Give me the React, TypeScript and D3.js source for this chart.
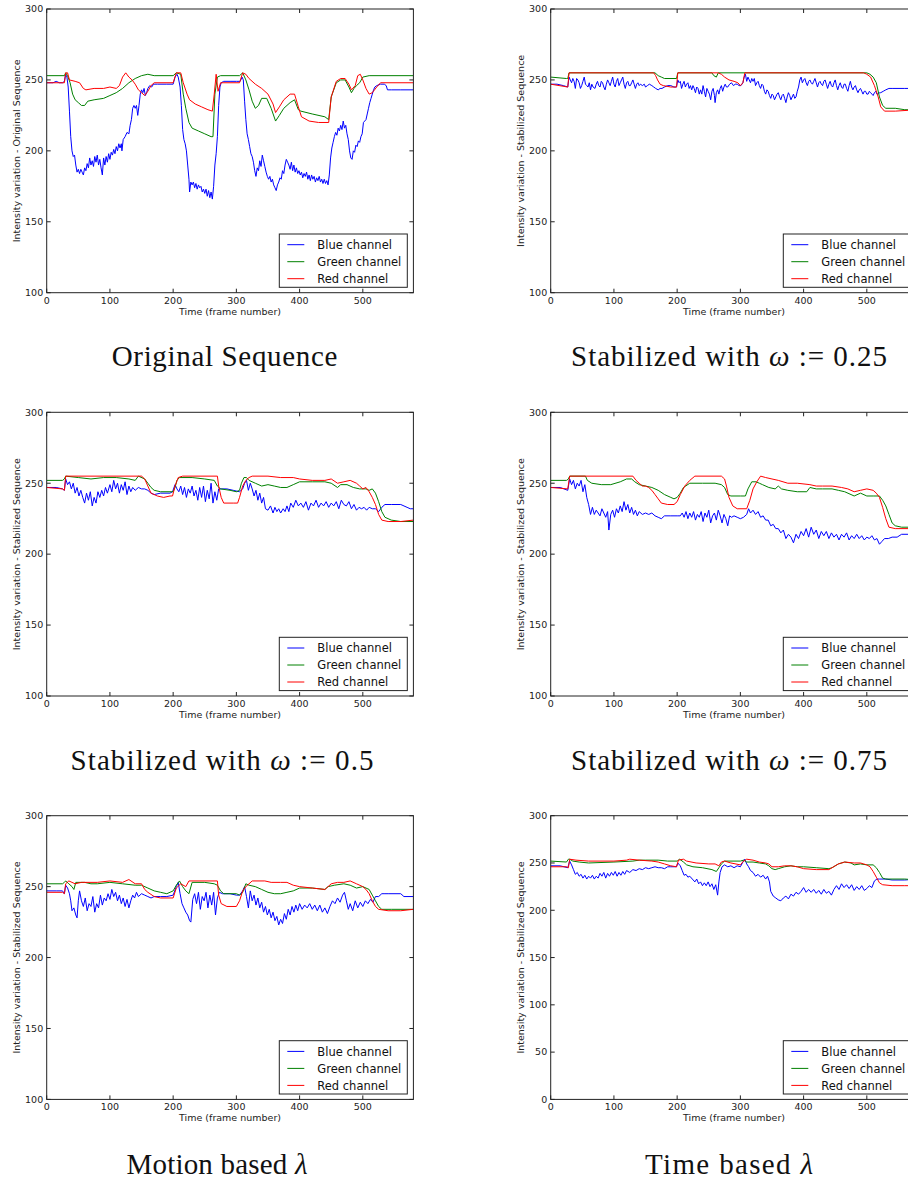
import React from 'react';
import * as d3 from 'd3';

type P = [number, number];

const xTicks = [0, 100, 200, 300, 400, 500];
const yTicksStd = [100, 150, 200, 250, 300];
const yTicksFull = [0, 50, 100, 150, 200, 250, 300];
const seriesNames = ['Blue channel', 'Green channel', 'Red channel'];
const seriesColors = ['#0000ff', '#008000', '#ff0000'];
const xLabel = 'Time (frame number)';
const yLabelOrig = 'Intensity variation - Original Sequence';
const yLabelStab = 'Intensity variation - Stabilized Sequence';

// ---------- Original Sequence ----------
const origBlue: P[] = [[0,248],[10,248],[15,249],[20,248],[25,248],[28,249],[30,254],[32,252],[34,245],[36,228],[38,210],[40,200],[42,196],[44,197],[46,190],[48,185],[50,187],[52,184],[54,187],[56,185],[58,183],[60,188],[62,186],[64,191],[66,188],[68,195],[70,190],[72,193],[74,189],[76,196],[78,192],[80,197],[82,190],[84,194],[86,188],[88,183],[90,195],[92,190],[94,196],[96,192],[98,198],[100,194],[102,199],[104,197],[106,201],[108,198],[110,203],[112,200],[114,205],[116,202],[118,205],[119,200],[121,208],[124,210],[127,213],[130,212],[132,218],[134,222],[136,230],[138,232],[140,230],[142,232],[144,225],[146,232],[148,240],[150,243],[152,241],[154,244],[156,239],[158,241],[160,244],[163,246],[166,245],[169,247],[175,247],[190,247],[200,247],[203,252],[206,254],[208,252],[211,245],[213,232],[215,215],[217,208],[219,205],[221,200],[223,190],[225,180],[226,171],[228,178],[230,176],[232,178],[234,174],[236,177],[238,173],[240,176],[242,174],[244,175],[246,171],[248,173],[250,170],[252,173],[254,168],[256,172],[258,167],[260,171],[262,166],[264,175],[266,190],[268,198],[270,210],[272,232],[274,245],[276,248],[280,249],[290,249],[300,249],[306,249],[309,252],[311,250],[313,235],[315,222],[317,212],[319,208],[321,203],[323,198],[325,196],[327,192],[329,186],[331,182],[333,188],[335,186],[337,193],[339,189],[341,197],[343,193],[345,189],[347,185],[349,182],[351,180],[353,182],[355,178],[357,180],[359,176],[361,174],[363,172],[365,176],[367,178],[369,181],[371,180],[373,186],[375,184],[377,190],[379,194],[381,192],[383,190],[385,187],[387,192],[389,186],[391,190],[393,185],[395,188],[397,184],[399,186],[401,183],[403,185],[405,181],[407,184],[409,182],[411,185],[413,180],[415,183],[417,179],[419,183],[421,180],[423,182],[425,178],[427,181],[429,179],[431,182],[433,178],[435,180],[437,177],[439,180],[441,177],[443,179],[445,176],[447,183],[449,195],[451,202],[453,206],[455,210],[457,213],[459,211],[461,216],[463,214],[465,218],[467,215],[469,221],[471,216],[473,218],[475,212],[477,208],[479,200],[481,195],[483,194],[485,200],[487,199],[489,204],[491,203],[493,207],[495,206],[497,210],[499,212],[501,220],[503,221],[505,222],[507,226],[509,230],[511,234],[513,237],[515,240],[517,243],[519,245],[522,246],[528,247],[534,247],[537,246],[539,243],[545,243],[560,243],[580,243]];
const origGreen: P[] = [[0,253],[28,253],[30,255],[33,253],[37,248],[41,240],[45,236],[50,234],[55,232],[60,232],[65,235],[75,236],[90,237],[100,239],[110,241],[120,244],[130,248],[140,251],[150,253],[160,254],[170,253],[200,253],[205,255],[212,254],[216,240],[220,230],[225,220],[230,216],[240,214],[250,212],[260,210],[263,210],[266,240],[270,252],[275,253],[305,253],[310,255],[315,250],[320,243],[325,235],[330,230],[335,232],[340,237],[348,237],[355,230],[362,221],[368,225],[375,230],[385,234],[392,236],[398,229],[402,228],[420,226],[440,224],[446,222],[450,238],[458,248],[465,250],[472,250],[478,245],[482,241],[486,244],[490,246],[495,248],[500,252],[510,253],[580,253]];
const origRed: P[] = [[0,248],[28,248],[30,255],[33,255],[36,250],[45,249],[52,248],[58,244],[62,243],[75,244],[90,244],[100,245],[110,244],[115,246],[120,252],[125,255],[130,252],[135,250],[140,247],[145,243],[150,241],[155,239],[160,242],[165,246],[170,248],[200,248],[205,255],[212,255],[216,248],[222,240],[226,236],[235,233],[245,231],[255,229],[262,228],[265,240],[268,254],[271,242],[275,248],[305,248],[310,255],[315,254],[320,251],[330,247],[340,244],[350,240],[358,233],[362,227],[368,231],[375,236],[385,240],[392,240],[398,231],[403,224],[415,221],[430,220],[446,220],[450,238],[458,249],[465,251],[472,251],[478,247],[482,243],[488,246],[492,253],[496,254],[500,250],[505,244],[510,240],[515,241],[522,245],[528,248],[580,248]];

// ---------- omega = 0.25 ----------
const w25Blue: P[] = [[0,247],[10,247],[20,246],[27,245],[29,252],[31,250],[33,248],[35,251],[37,249],[39,244],[41,251],[43,250],[45,248],[47,244],[49,246],[51,249],[53,252],[55,247],[57,246],[59,245],[61,248],[63,243],[65,247],[67,245],[70,244],[72,247],[74,249],[76,246],[78,245],[80,249],[82,248],[84,245],[86,243],[88,247],[90,250],[92,248],[94,246],[96,249],[98,252],[100,247],[102,245],[104,249],[106,251],[108,246],[110,248],[112,250],[114,252],[116,247],[118,244],[120,248],[122,249],[124,246],[126,246],[128,248],[130,250],[132,247],[134,244],[136,247],[138,248],[140,246],[142,247],[145,246],[148,247],[150,245],[153,246],[156,247],[160,246],[163,245],[166,244],[170,243],[173,244],[176,244],[180,245],[185,246],[190,246],[195,245],[199,245],[201,250],[203,248],[205,249],[207,244],[209,247],[211,249],[213,245],[215,247],[217,248],[219,244],[221,246],[223,243],[225,246],[227,244],[229,241],[231,245],[233,244],[235,240],[237,243],[239,240],[241,246],[243,242],[245,238],[247,244],[249,242],[251,240],[253,236],[255,242],[257,244],[259,239],[260,234],[262,241],[264,243],[266,240],[268,244],[270,246],[272,242],[274,245],[276,247],[278,245],[280,245],[283,247],[286,248],[289,246],[292,247],[295,247],[298,246],[301,246],[304,248],[306,252],[308,254],[310,249],[312,252],[314,250],[316,248],[318,251],[320,249],[322,251],[324,246],[326,248],[328,249],[330,246],[332,244],[334,247],[336,246],[338,242],[340,240],[342,243],[344,242],[346,239],[348,237],[350,240],[352,239],[354,236],[356,238],[358,240],[360,241],[362,238],[364,236],[366,239],[368,240],[370,237],[372,234],[374,238],[376,241],[378,239],[380,236],[382,238],[384,240],[386,237],[388,238],[390,242],[392,245],[394,250],[396,252],[398,248],[400,250],[402,251],[404,248],[406,246],[408,249],[410,250],[412,248],[414,247],[416,249],[418,251],[420,248],[422,245],[424,248],[426,249],[428,247],[430,246],[432,249],[434,250],[436,247],[438,244],[440,247],[442,249],[444,246],[446,245],[448,248],[450,250],[452,246],[454,243],[456,246],[458,248],[460,245],[462,244],[464,247],[466,247],[468,244],[470,242],[472,246],[474,249],[476,245],[478,243],[480,245],[482,246],[484,243],[486,241],[488,243],[490,244],[492,242],[494,240],[496,242],[498,242],[500,240],[502,240],[504,242],[506,241],[508,240],[510,239],[512,241],[514,242],[516,240],[518,240],[520,241],[522,241],[526,242],[530,243],[535,244],[540,244],[560,244],[580,244]];
const w25Green: P[] = [[0,252],[25,251],[27,251],[29,255],[165,255],[170,253],[175,252],[180,251],[199,251],[201,255],[255,255],[258,253],[262,252],[265,255],[500,255],[505,254],[510,252],[515,248],[520,238],[525,232],[530,230],[545,230],[560,229],[580,229]];
const w25Red: P[] = [[0,247],[27,245],[29,255],[163,255],[166,253],[169,250],[173,247],[178,246],[190,245],[199,245],[201,255],[265,255],[270,254],[275,252],[282,250],[290,249],[296,248],[300,246],[304,248],[307,255],[495,255],[500,254],[506,252],[512,246],[518,238],[522,231],[528,228],[545,228],[580,229]];

// ---------- omega = 0.5 ----------
const w50Blue: P[] = [[0,247],[15,247],[25,246],[28,245],[30,253],[33,249],[36,251],[39,246],[42,250],[45,243],[48,247],[51,241],[54,245],[57,240],[60,236],[63,243],[66,238],[69,244],[72,234],[75,240],[78,236],[81,244],[84,240],[87,245],[90,241],[93,247],[96,243],[100,249],[103,244],[106,252],[109,246],[112,250],[115,243],[118,249],[121,245],[124,251],[127,242],[130,248],[133,244],[136,247],[140,245],[145,247],[150,246],[155,246],[160,245],[165,243],[170,242],[180,243],[195,243],[199,244],[203,249],[206,246],[209,244],[212,248],[215,242],[218,247],[221,240],[224,246],[227,243],[230,248],[233,241],[236,245],[239,238],[242,247],[245,240],[248,248],[251,237],[254,245],[257,239],[260,250],[263,236],[266,244],[269,238],[272,246],[276,246],[285,246],[295,245],[305,244],[310,246],[313,250],[316,252],[319,245],[322,250],[325,246],[328,241],[331,245],[334,238],[337,243],[340,236],[343,240],[346,232],[350,231],[354,234],[358,229],[361,233],[364,230],[367,232],[370,229],[374,232],[377,230],[380,234],[383,230],[386,236],[390,233],[394,238],[398,234],[402,236],[406,233],[410,237],[414,231],[418,236],[422,234],[426,238],[430,233],[434,236],[438,234],[442,237],[446,233],[450,236],[454,234],[458,237],[462,232],[466,238],[470,235],[474,234],[478,237],[482,232],[486,235],[490,231],[494,233],[498,232],[502,233],[506,231],[510,233],[515,232],[520,232],[525,230],[530,233],[535,235],[545,235],[560,235],[570,233],[575,232],[580,232]];
const w50Green: P[] = [[0,252],[25,252],[28,253],[30,255],[50,254],[70,253],[90,254],[110,254],[130,253],[140,252],[145,255],[155,253],[160,250],[165,247],[170,245],[180,244],[195,244],[200,244],[203,247],[206,252],[210,254],[230,254],[250,253],[265,252],[270,248],[275,246],[290,245],[300,244],[305,245],[308,250],[312,254],[316,254],[320,252],[330,250],[340,248],[350,249],[360,248],[370,247],[380,247],[390,249],[400,251],[420,251],[440,251],[450,250],[460,247],[465,249],[475,249],[485,247],[495,246],[505,246],[510,245],[515,246],[520,243],[525,237],[530,230],[535,226],[545,224],[560,223],[580,223]];
const w50Red: P[] = [[0,247],[25,246],[28,245],[30,255],[150,255],[155,253],[160,248],[165,243],[175,241],[185,240],[195,241],[199,241],[203,248],[208,254],[215,255],[270,255],[272,248],[276,240],[280,236],[295,236],[302,236],[305,240],[310,248],[315,252],[320,254],[325,255],[350,255],[370,254],[390,254],[400,253],[420,252],[440,252],[450,253],[460,250],[470,251],[480,252],[490,250],[495,248],[500,246],[505,247],[510,244],[515,240],[520,235],[525,228],[530,224],[540,223],[560,223],[580,224]];

// ---------- omega = 0.75 ----------
const w75Blue: P[] = [[0,247],[15,247],[27,245],[30,253],[33,249],[36,252],[39,246],[42,250],[45,248],[48,252],[51,244],[54,249],[57,240],[60,235],[63,228],[66,233],[69,228],[72,231],[75,229],[78,227],[81,232],[84,229],[87,226],[90,230],[92,217],[95,228],[98,231],[101,226],[104,232],[107,229],[110,234],[113,230],[116,237],[119,231],[122,235],[125,229],[128,233],[131,228],[134,231],[137,227],[140,230],[145,228],[150,229],[155,228],[160,229],[165,227],[170,226],[175,225],[180,227],[190,227],[200,227],[205,227],[208,229],[211,226],[214,230],[217,225],[220,229],[223,226],[226,230],[229,224],[232,228],[235,226],[238,230],[241,223],[244,229],[247,226],[250,231],[253,222],[256,227],[259,229],[262,224],[265,231],[268,227],[271,222],[274,228],[277,225],[280,220],[283,227],[286,226],[290,227],[295,226],[300,225],[305,226],[310,228],[313,232],[316,229],[320,231],[324,228],[328,230],[332,226],[336,227],[340,224],[344,224],[348,220],[352,221],[356,218],[360,218],[364,215],[368,217],[372,211],[376,214],[380,212],[384,208],[388,214],[392,211],[396,216],[400,213],[404,218],[408,212],[412,219],[416,214],[420,217],[424,211],[428,216],[432,213],[436,216],[440,211],[444,215],[448,212],[452,214],[456,210],[460,214],[464,212],[468,215],[472,210],[476,213],[480,211],[484,214],[488,211],[492,213],[496,210],[500,212],[504,211],[508,213],[512,210],[516,211],[520,207],[524,209],[528,211],[534,211],[540,212],[548,212],[555,214],[580,214]];
const w75Green: P[] = [[0,252],[25,252],[28,253],[30,255],[55,255],[58,252],[65,250],[80,249],[95,249],[110,251],[120,253],[128,253],[133,251],[140,249],[150,248],[160,247],[170,245],[180,242],[190,240],[195,239],[200,240],[205,243],[210,247],[220,250],[240,250],[260,250],[270,249],[275,247],[280,242],[285,241],[300,241],[308,241],[312,246],[318,251],[325,251],[330,250],[335,249],[345,247],[355,246],[360,248],[365,246],[375,245],[390,244],[405,244],[410,247],[420,246],[430,246],[445,246],[455,245],[465,244],[475,242],[480,241],[490,243],[500,241],[510,241],[520,241],[525,238],[530,234],[535,228],[540,222],[545,220],[555,219],[580,219]];
const w75Red: P[] = [[0,247],[27,246],[30,255],[130,255],[135,252],[140,250],[145,248],[150,248],[155,247],[160,245],[165,242],[170,239],[175,236],[185,235],[195,235],[200,237],[205,242],[212,248],[220,252],[228,255],[270,255],[275,253],[278,248],[282,240],[288,234],[295,232],[310,232],[315,238],[320,246],[326,251],[332,255],[340,254],[350,253],[360,252],[375,250],[390,250],[410,249],[420,248],[430,248],[445,248],[460,247],[470,246],[480,244],[490,245],[500,246],[510,245],[515,243],[520,240],[525,233],[530,225],[535,219],[545,218],[580,218]];

// ---------- Motion based lambda ----------
const motionBlue: P[] = [[0,247],[15,247],[25,247],[28,245],[30,251],[33,249],[36,245],[38,240],[40,233],[43,235],[46,230],[48,228],[50,240],[52,247],[55,240],[58,236],[61,242],[64,233],[67,238],[70,236],[73,243],[76,232],[79,238],[82,235],[85,244],[88,237],[91,242],[94,240],[97,245],[100,241],[103,248],[106,243],[109,246],[112,240],[115,244],[118,238],[121,242],[124,236],[127,241],[130,235],[133,240],[136,244],[139,242],[142,246],[145,243],[150,245],[155,244],[160,243],[165,242],[170,243],[180,243],[190,243],[200,244],[205,250],[208,253],[211,245],[214,238],[217,235],[220,232],[223,230],[226,226],[228,225],[231,241],[234,245],[237,238],[240,246],[243,234],[246,243],[249,240],[252,246],[255,235],[258,244],[261,237],[264,246],[267,230],[270,242],[273,246],[278,245],[290,245],[300,244],[305,244],[310,247],[313,250],[316,243],[319,235],[322,247],[325,240],[328,244],[331,237],[334,242],[337,235],[340,239],[343,232],[346,236],[349,230],[352,234],[355,228],[358,232],[361,226],[364,229],[367,223],[370,227],[373,224],[376,231],[379,227],[382,234],[385,230],[388,236],[391,232],[394,237],[397,233],[400,238],[404,234],[408,237],[412,235],[416,238],[420,234],[424,237],[428,233],[432,237],[436,232],[440,235],[444,231],[448,236],[452,240],[456,238],[460,242],[464,239],[468,244],[471,246],[474,240],[477,234],[480,238],[484,233],[488,240],[492,235],[496,239],[500,236],[504,240],[508,238],[512,241],[516,239],[520,243],[525,243],[530,245],[535,245],[540,245],[560,245],[565,243],[580,243]];
const motionGreen: P[] = [[0,252],[25,252],[28,253],[30,254],[35,252],[40,250],[43,248],[46,253],[60,253],[70,252],[80,252],[100,253],[120,252],[140,251],[150,251],[160,249],[170,247],[180,246],[190,245],[200,247],[205,251],[210,254],[215,250],[220,247],[225,245],[230,253],[250,253],[265,252],[270,251],[275,247],[280,245],[300,245],[305,244],[310,246],[315,252],[320,251],[330,250],[340,248],[350,246],[360,245],[370,245],[380,246],[390,247],[400,249],[420,249],[440,248],[445,250],[455,251],[470,252],[480,251],[490,249],[500,250],[510,248],[515,244],[520,240],[525,236],[530,234],[545,234],[580,234]];
const motionRed: P[] = [[0,246],[25,246],[28,245],[30,252],[35,254],[40,253],[45,252],[55,253],[80,253],[100,254],[120,253],[130,255],[140,252],[150,252],[155,248],[160,246],[170,243],[180,242],[195,242],[200,242],[205,249],[212,252],[220,250],[225,254],[270,254],[272,244],[276,238],[285,236],[300,236],[305,240],[310,247],[315,250],[325,254],[345,254],[355,253],[370,253],[380,253],[390,251],[400,250],[420,249],[440,248],[450,252],[460,253],[470,253],[480,254],[490,252],[500,250],[505,248],[510,245],[515,240],[520,236],[525,234],[540,233],[560,233],[580,234]];

// ---------- Time based lambda ----------
const timeBlue: P[] = [[0,247],[15,247],[27,245],[30,252],[33,248],[36,243],[39,238],[42,240],[45,236],[48,238],[51,234],[54,237],[57,233],[60,236],[63,234],[66,237],[69,233],[72,236],[75,234],[78,239],[81,236],[84,240],[87,234],[90,239],[93,236],[96,240],[99,237],[102,241],[105,236],[108,240],[111,237],[114,241],[117,238],[120,242],[125,240],[130,243],[135,242],[140,244],[145,243],[150,245],[155,244],[160,245],[165,246],[170,245],[175,245],[180,244],[185,246],[190,246],[199,246],[201,250],[205,247],[208,242],[211,237],[214,238],[217,235],[220,236],[224,233],[228,230],[231,233],[234,228],[237,230],[240,226],[243,229],[246,226],[249,230],[252,225],[255,228],[258,222],[261,227],[264,216],[266,230],[268,240],[271,246],[275,248],[280,246],[285,247],[290,245],[295,247],[300,246],[304,251],[307,254],[310,249],[313,246],[316,242],[320,240],[324,236],[328,238],[332,235],[336,237],[340,233],[343,236],[346,230],[348,220],[352,215],[356,213],[360,211],[364,210],[368,213],[372,215],[376,212],[380,217],[384,215],[388,219],[392,217],[396,220],[400,224],[404,219],[408,222],[412,219],[416,222],[420,218],[424,221],[428,217],[432,222],[436,218],[440,220],[444,216],[448,222],[452,226],[456,222],[460,228],[464,224],[468,227],[472,223],[476,227],[480,221],[484,225],[488,222],[492,226],[496,221],[500,223],[504,226],[508,224],[512,231],[516,233],[520,233],[530,233],[540,232],[560,232],[580,233]];
const timeGreen: P[] = [[0,252],[25,251],[28,254],[30,254],[35,252],[45,251],[60,250],[100,251],[130,252],[140,253],[150,253],[170,253],[185,252],[200,252],[204,254],[210,251],[215,248],[225,246],[240,245],[255,243],[262,241],[266,245],[270,249],[275,252],[300,252],[305,253],[310,251],[320,251],[330,250],[340,249],[345,247],[350,244],[355,243],[360,244],[370,246],[380,247],[390,246],[400,246],[420,245],[440,244],[445,245],[455,249],[465,251],[475,250],[480,248],[490,249],[500,248],[510,248],[515,245],[520,240],[525,234],[530,233],[560,233],[580,232]];
const timeRed: P[] = [[0,246],[25,246],[28,245],[30,254],[40,253],[60,252],[100,252],[120,253],[125,254],[140,253],[160,252],[170,251],[180,249],[190,247],[199,246],[202,253],[210,254],[215,252],[230,250],[250,249],[260,249],[266,247],[270,251],[275,252],[285,250],[300,248],[305,252],[310,254],[320,253],[330,251],[340,250],[345,249],[350,246],[360,246],[370,247],[380,247],[390,246],[400,244],[420,243],[440,243],[445,245],[455,249],[465,251],[480,250],[490,250],[495,249],[500,248],[505,246],[510,241],[515,235],[520,229],[525,227],[540,226],[560,226],[580,226]];

// ---------- panel descriptions ----------
const captionPre = ['Original Sequence', 'Stabilized with ', 'Stabilized with ', 'Stabilized with ', 'Motion based ', 'Time based '];
const captionSym = ['', 'ω', 'ω', 'ω', 'λ', 'λ'];
const captionPost = ['', ' := 0.25', ' := 0.5', ' := 0.75', '', ''];

const panelData = [
  { series: [origBlue, origGreen, origRed], yDomain: [100, 300], yTicks: yTicksStd, yLabel: yLabelOrig },
  { series: [w25Blue, w25Green, w25Red], yDomain: [100, 300], yTicks: yTicksStd, yLabel: yLabelStab },
  { series: [w50Blue, w50Green, w50Red], yDomain: [100, 300], yTicks: yTicksStd, yLabel: yLabelStab },
  { series: [w75Blue, w75Green, w75Red], yDomain: [100, 300], yTicks: yTicksStd, yLabel: yLabelStab },
  { series: [motionBlue, motionGreen, motionRed], yDomain: [100, 300], yTicks: yTicksStd, yLabel: yLabelStab },
  { series: [timeBlue, timeGreen, timeRed], yDomain: [0, 300], yTicks: yTicksFull, yLabel: yLabelStab },
];

// layout
const COL_X = [46.7, 550.7];
const ROW_Y = [9, 412.3, 815.7];
const AX_W = 366.7;
const AX_H = 283.7;
const CAP_BASE = [366, 770, 1173.5];
const CAP_CX = [224.5, 729, 222, 729, 217, 729];
const CAP_LEN = [225.6, 316, 303, 316, 181, 168];

const SANS = '"DejaVu Sans", sans-serif';
const SERIF = '"Liberation Serif", "Times New Roman", serif';

function Panel({ idx }: { idx: number }) {
  const d = panelData[idx];
  const col = idx % 2;
  const row = Math.floor(idx / 2);
  const ox = COL_X[col];
  const oy = ROW_Y[row];
  const x = d3.scaleLinear().domain([0, 580]).range([ox, ox + AX_W]);
  const y = d3.scaleLinear().domain(d.yDomain).range([oy + AX_H, oy]);
  const line = d3.line<P>().x((p) => x(p[0])).y((p) => y(p[1]));
  const clipId = `clip${idx}`;
  const tk = 4;
  const lgX = ox + 232.6;
  const lgY = oy + AX_H - 5.4 - 53.3;
  return (
    <g>
      <defs>
        <clipPath id={clipId}>
          <rect x={ox} y={oy} width={AX_W} height={AX_H} />
        </clipPath>
      </defs>
      <rect x={ox} y={oy} width={AX_W} height={AX_H} fill="#fff" />
      <g clipPath={`url(#${clipId})`}>
        {d.series.map((s, i) => (
          <path key={i} d={line(s) || ''} fill="none" stroke={seriesColors[i]} strokeWidth={1} strokeLinejoin="round" />
        ))}
      </g>
      {/* ticks */}
      {xTicks.map((t) => (
        <g key={'x' + t}>
          <line x1={x(t)} x2={x(t)} y1={oy + AX_H} y2={oy + AX_H - tk} stroke="#222" strokeWidth={1} />
          <line x1={x(t)} x2={x(t)} y1={oy} y2={oy + tk} stroke="#222" strokeWidth={1} />
          <text x={x(t)} y={oy + AX_H + 11} textAnchor="middle" fontFamily={SANS} fontSize={9.5} fill="#222">{t}</text>
        </g>
      ))}
      {d.yTicks.map((t) => (
        <g key={'y' + t}>
          <line x1={ox} x2={ox + tk} y1={y(t)} y2={y(t)} stroke="#222" strokeWidth={1} />
          <line x1={ox + AX_W} x2={ox + AX_W - tk} y1={y(t)} y2={y(t)} stroke="#222" strokeWidth={1} />
          <text x={ox - 3.5} y={y(t)} dy="0.35em" textAnchor="end" fontFamily={SANS} fontSize={9.5} fill="#222">{t}</text>
        </g>
      ))}
      <rect x={ox} y={oy} width={AX_W} height={AX_H} fill="none" stroke="#222" strokeWidth={1} />
      {/* axis labels */}
      <text x={ox + AX_W / 2} y={oy + AX_H + 22} textAnchor="middle" fontFamily={SANS} fontSize={9.5} fill="#222">{xLabel}</text>
      <text transform={`translate(${ox - 27.2},${oy + AX_H / 2}) rotate(-90)`} textAnchor="middle" fontFamily={SANS} fontSize={9.5} fill="#222">{d.yLabel}</text>
      {/* legend */}
      <rect x={lgX} y={lgY} width={128} height={53.3} fill="#fff" stroke="#222" strokeWidth={1} />
      {seriesNames.map((n, i) => (
        <g key={n}>
          <line x1={lgX + 8} x2={lgX + 25} y1={lgY + 10.7 + 17 * i} y2={lgY + 10.7 + 17 * i} stroke={seriesColors[i]} strokeWidth={1} />
          <text x={lgX + 38} y={lgY + 10.7 + 17 * i} dy="0.36em" fontFamily={SANS} fontSize={11.5} fill="#111">{n}</text>
        </g>
      ))}
      {/* caption */}
      <text x={CAP_CX[idx]} y={CAP_BASE[row]} textAnchor="middle" fontFamily={SERIF} fontSize={29} fill="#111" textLength={CAP_LEN[idx]} lengthAdjust="spacing">
        {captionPre[idx]}
        {captionSym[idx] ? <tspan fontStyle="italic">{captionSym[idx]}</tspan> : null}
        {captionPost[idx]}
      </text>
    </g>
  );
}

export default function App() {
  return (
    <svg width={908} height={1180} style={{ position: 'absolute', left: 0, top: 0, background: '#fff' }}>
      <rect x={0} y={0} width={908} height={1180} fill="#fff" />
      {panelData.map((_, i) => (
        <Panel key={i} idx={i} />
      ))}
    </svg>
  );
}
